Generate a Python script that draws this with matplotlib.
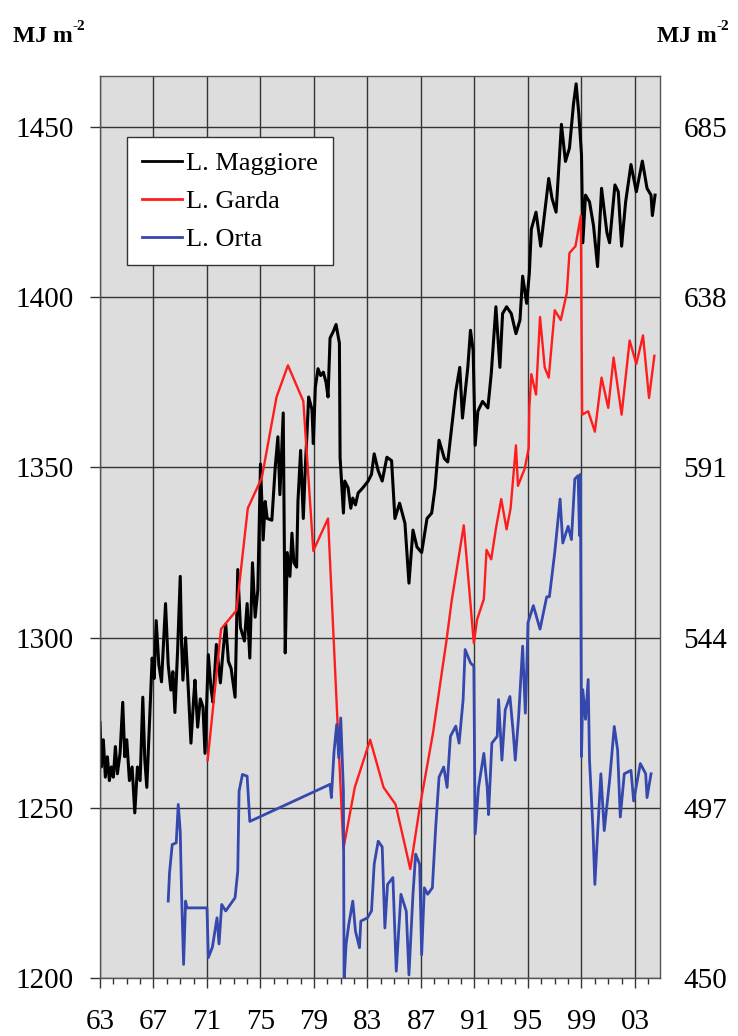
import matplotlib
matplotlib.use("Agg")
import matplotlib.pyplot as plt
from matplotlib.ticker import MultipleLocator

plt.rcParams['font.family'] = ['Liberation Serif', 'DejaVu Serif']

# L. Maggiore, left scale (MJ m-2)
maggiore_year = [1963.0, 1963.1, 1963.25, 1963.4, 1963.55, 1963.7, 1963.85, 1964.0, 1964.15, 1964.3,
                 1964.5, 1964.7, 1964.85, 1965.0, 1965.2, 1965.4, 1965.6, 1965.8, 1966.0, 1966.2,
                 1966.35, 1966.5, 1966.7, 1966.9, 1967.05, 1967.2, 1967.4, 1967.6, 1967.9, 1968.1,
                 1968.3, 1968.45, 1968.6, 1968.8, 1969.0, 1969.1, 1969.2, 1969.4, 1969.6, 1969.8,
                 1970.0, 1970.1, 1970.3, 1970.5, 1970.7, 1970.85, 1971.1, 1971.3, 1971.45, 1971.7,
                 1972.0, 1972.2, 1972.4, 1972.6, 1972.8, 1973.1, 1973.3, 1973.5, 1973.8, 1974.0,
                 1974.2, 1974.4, 1974.6, 1974.8, 1975.0, 1975.2, 1975.35, 1975.5, 1975.85, 1976.1,
                 1976.3, 1976.45, 1976.7, 1976.85, 1977.0, 1977.2, 1977.35, 1977.5, 1977.7, 1977.8,
                 1978.0, 1978.2, 1978.35, 1978.5, 1978.6, 1978.85, 1978.95, 1979.1, 1979.3, 1979.5,
                 1979.7, 1979.9, 1980.05, 1980.2, 1980.45, 1980.65, 1980.9, 1980.95, 1981.2, 1981.3,
                 1981.55, 1981.75, 1981.9, 1982.1, 1982.3, 1982.65, 1983.05, 1983.3, 1983.5, 1983.8,
                 1984.1, 1984.45, 1984.8, 1985.05, 1985.4, 1985.8, 1986.1, 1986.4, 1986.7, 1987.05,
                 1987.45, 1987.8, 1988.05, 1988.35, 1988.75, 1989.0, 1989.4, 1989.6, 1989.9, 1990.1,
                 1990.5, 1990.7, 1990.9, 1991.05, 1991.25, 1991.6, 1992.0, 1992.25, 1992.6, 1992.9,
                 1993.1, 1993.4, 1993.75, 1994.1, 1994.4, 1994.6, 1994.9, 1995.1, 1995.25, 1995.6,
                 1995.95, 1996.25, 1996.55, 1996.8, 1997.1, 1997.5, 1997.8, 1998.1, 1998.4, 1998.6,
                 1998.8, 1999.0, 1999.1, 1999.3, 1999.6, 1999.9, 2000.2, 2000.5, 2000.9, 2001.1,
                 2001.5, 2001.75, 2002.0, 2002.3, 2002.7, 2003.1, 2003.55, 2003.9, 2004.2, 2004.3,
                 2004.5]
maggiore_val = [1275, 1262, 1270, 1259, 1265, 1258, 1262, 1259, 1268, 1260,
                1266, 1281, 1265, 1270, 1258, 1262, 1248.5, 1262, 1258, 1282.5,
                1264, 1256, 1275, 1294, 1288, 1305, 1292, 1287, 1310, 1292,
                1284.6, 1290, 1278, 1296, 1318, 1298, 1287.5, 1300, 1285, 1269,
                1282, 1287.5, 1273.7, 1282, 1279.6, 1266, 1295, 1285, 1281, 1298,
                1286.7, 1296, 1304, 1293, 1291, 1282.5, 1320, 1303, 1299, 1310,
                1294, 1322, 1306, 1314, 1351, 1328.7, 1340, 1335, 1334.5, 1350,
                1359, 1342, 1366, 1295.5, 1325, 1318, 1330.7, 1322, 1320.7, 1340,
                1355, 1335, 1350, 1362, 1370.7, 1367, 1357, 1373.6, 1379, 1377,
                1378, 1375, 1370.7, 1388, 1390, 1392, 1386.5, 1353, 1336.6, 1346,
                1344, 1338, 1341, 1339, 1342.5, 1344, 1346, 1348, 1354, 1349,
                1346, 1353, 1352, 1335, 1339.5, 1333.6, 1316, 1331.6, 1326.6, 1325,
                1335, 1336.6, 1344, 1358, 1352.6, 1351.6, 1365.5, 1372.4, 1379.4, 1364.5,
                1379.4, 1390.3, 1384.3, 1356.5, 1366.5, 1369.4, 1367.5, 1377.4, 1397.2, 1379.4,
                1395.2, 1397.2, 1395.2, 1389.3, 1393.3, 1406.2, 1398.2, 1407.1, 1420, 1425,
                1415, 1425, 1434.9, 1429, 1425, 1450.8, 1439.9, 1443.8, 1456.7, 1462.7,
                1453.8, 1441.9, 1416, 1430, 1428, 1421, 1409, 1432, 1419, 1416,
                1433, 1431, 1415, 1428, 1439, 1431, 1440, 1432, 1430, 1424,
                1430]

# L. Garda, left scale
garda_year = [1971.05, 1972.05, 1973.2, 1974.05, 1975.1, 1976.2, 1977.05, 1978.2, 1978.95, 1980.05,
              1981.2, 1982.05, 1983.2, 1984.2, 1985.1, 1986.2, 1986.9, 1987.9, 1988.9, 1989.3,
              1990.2, 1990.95, 1991.2, 1991.7, 1991.9, 1992.25, 1992.6, 1993.0, 1993.4, 1993.7,
              1994.1, 1994.25, 1994.75, 1995.05, 1995.1, 1995.25, 1995.6, 1995.9, 1996.25, 1996.55,
              1997.0, 1997.45, 1997.9, 1998.1, 1998.55, 1998.95, 1999.05, 1999.5, 2000.0, 2000.5,
              2001.0, 2001.4, 2002.0, 2002.6, 2003.1, 2003.6, 2004.05, 2004.45]
garda_val = [1264, 1302.5, 1308, 1338, 1347, 1370.7, 1380, 1369.5, 1325.5, 1335,
             1238, 1256, 1270, 1256, 1251, 1232, 1250, 1272, 1299, 1311,
             1333, 1298.4, 1305.4, 1311.3, 1325.8, 1323, 1332, 1340.7, 1331.8, 1338,
             1356.5, 1344.6, 1349.6, 1355.6, 1367.5, 1377.4, 1371.4, 1394.2, 1379.4, 1376.4,
             1396.2, 1393.3, 1401.2, 1413, 1415, 1424, 1365.5, 1366.5, 1360.5, 1376.4,
             1367.5, 1382.3, 1365.5, 1387.3, 1380.4, 1388.8, 1370.4, 1382.8]

# L. Orta, drawn on the left scale
orta_year = [1968.1, 1968.2, 1968.4, 1968.7, 1968.85, 1969.0, 1969.1, 1969.25, 1969.4, 1969.5,
             1971.0, 1971.1, 1971.4, 1971.75, 1971.9, 1972.1, 1972.4, 1973.1, 1973.3, 1973.4,
             1973.65, 1974.0, 1974.2, 1980.2, 1980.3, 1980.5, 1980.7, 1980.85, 1981.0, 1981.2,
             1981.25, 1981.4, 1981.6, 1981.9, 1982.1, 1982.4, 1982.5, 1983.0, 1983.3, 1983.5,
             1983.8, 1984.1, 1984.3, 1984.5, 1984.9, 1985.15, 1985.5, 1985.9, 1986.1, 1986.4,
             1986.6, 1986.9, 1987.05, 1987.25, 1987.5, 1987.85, 1988.1, 1988.35, 1988.7, 1988.95,
             1989.2, 1989.6, 1989.85, 1990.15, 1990.3, 1990.7, 1990.95, 1991.05, 1991.3, 1991.7,
             1991.95, 1992.05, 1992.3, 1992.7, 1992.8, 1993.05, 1993.3, 1993.65, 1993.9, 1994.05,
             1994.3, 1994.6, 1994.8, 1994.9, 1995.0, 1995.4, 1995.9, 1996.4, 1996.6, 1997.0,
             1997.4, 1997.6, 1998.0, 1998.25, 1998.5, 1998.75, 1998.85, 1998.92, 1999.0, 1999.1,
             1999.3, 1999.5, 1999.6, 1999.85, 2000.0, 2000.2, 2000.45, 2000.7, 2001.1, 2001.45,
             2001.7, 2001.9, 2002.2, 2002.7, 2002.9, 2003.4, 2003.8, 2003.9, 2004.2]
orta_val = [1222.6, 1231, 1239.2, 1239.7, 1251, 1243, 1224.5, 1204, 1222.6, 1220.6,
            1220.6, 1206, 1209, 1217.7, 1210, 1221.6, 1219.7, 1223.6, 1231.4, 1254.9,
            1259.8, 1259.3, 1246, 1256.9, 1253, 1266.6, 1274.5, 1264.7, 1276.4, 1254.9,
            1199, 1209.9, 1215.7, 1222.6, 1213.8, 1208.9, 1216.7, 1217.7, 1219.7, 1233.4,
            1240.2, 1238.5, 1214.7, 1227.5, 1229.5, 1202, 1224.6, 1219.6, 1200.9, 1224.6,
            1236.4, 1233.4, 1206.8, 1226.5, 1224.6, 1226.5, 1244.3, 1259, 1262, 1256,
            1271, 1274, 1269, 1281.8, 1296.5, 1292.6, 1291.6, 1242.3, 1256, 1266,
            1256, 1248, 1269, 1271, 1281.8, 1264, 1278.8, 1282.7, 1271.9, 1264,
            1276.8, 1297.5, 1277.8, 1289.6, 1304.4, 1309.4, 1302.5, 1312, 1312, 1325,
            1340.7, 1327.8, 1332.7, 1328.8, 1346.6, 1347.6, 1330, 1348, 1265, 1284.7,
            1276, 1287.7, 1264, 1244.3, 1227.5, 1242.3, 1260, 1243.3, 1258, 1273.9,
            1267, 1247.3, 1260, 1261, 1252, 1263, 1260, 1253, 1260]

year_ticks = [1963, 1967, 1971, 1975, 1979, 1983, 1987, 1991, 1995, 1999, 2003]
year_labels = ['63', '67', '71', '75', '79', '83', '87', '91', '95', '99', '03']
left_ticks = [1200, 1250, 1300, 1350, 1400, 1450]
right_ticks = [450, 497, 544, 591, 638, 685]

fig = plt.figure(figsize=(7.38, 10.36), dpi=100)
ax = fig.add_axes([100 / 738, 1 - 978 / 1036, 560 / 738, 902 / 1036])
ax.set_facecolor('#dddddd')
ax.set_axisbelow(True)

ax.plot(maggiore_year, maggiore_val, color='black', lw=2.2, label='L. Maggiore')
ax.plot(garda_year, garda_val, color='#ff1c1c', lw=1.7, label='L. Garda')
ax.plot(orta_year, orta_val, color='#3548ad', lw=2.0, label='L. Orta')

ax.set_xlim(1963, 2004.87)
ax.set_ylim(1200, 1465)
ax.set_xticks(year_ticks)
ax.set_xticklabels(year_labels)
ax.xaxis.set_minor_locator(MultipleLocator(1))
ax.set_yticks(left_ticks)
ax.grid(True, which='major', color='#333333', lw=1.0)

ax.tick_params(axis='y', direction='out', length=7, width=1, pad=12, labelsize=21, color='#333333')
ax.tick_params(axis='x', which='major', direction='out', length=7, width=1, pad=15,
               labelsize=21, color='#333333')
ax.tick_params(axis='x', which='minor', direction='out', length=4, width=1, color='#333333')
for sp in ax.spines.values():
    sp.set_color('#555555')
    sp.set_linewidth(1.0)

# right scale: 50 units on the left equal 47 on the right
ax2 = ax.twinx()
lo, hi = ax.get_ylim()
ax2.set_ylim(450 + (lo - 1200) * 0.94, 450 + (hi - 1200) * 0.94)
ax2.set_yticks(right_ticks)
ax2.tick_params(axis='y', length=0, pad=17, labelsize=21)
for sp in ax2.spines.values():
    sp.set_visible(False)

leg = ax.legend(loc='upper left', bbox_to_anchor=(127 / 738, 1 - 137 / 1036),
                bbox_transform=fig.transFigure, borderaxespad=0, fontsize=19,
                handlelength=1.55, handletextpad=0.15, labelspacing=0.55,
                borderpad=0.55, fancybox=False, framealpha=1, edgecolor='#333333')
leg.get_frame().set_linewidth(1.0)
for line in leg.get_lines():
    line.set_linewidth(2.0)

# units above both scales
for x in (13 / 738, 657 / 738):
    t = fig.text(x, 1 - 36 / 1036, 'MJ m', fontsize=17, fontweight='bold', ha='left', va='center')
    ax.annotate('-2', xy=(1.0, 0.95), xycoords=t, fontsize=11, fontweight='bold',
                ha='left', va='center', annotation_clip=False)

fig.savefig('out.png', dpi=100, facecolor='white')
